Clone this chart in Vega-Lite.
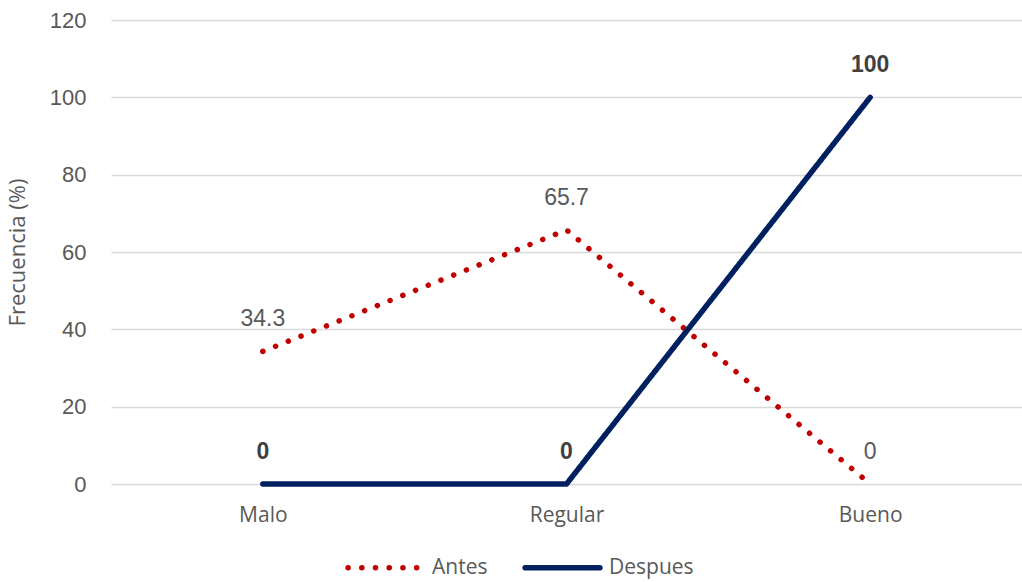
{
  "$schema": "https://vega.github.io/schema/vega-lite/v6.json",
  "autosize": {"type": "none"},
  "width": 911,
  "height": 464,
  "padding": {"left": 111, "top": 20, "right": 0, "bottom": 98},
  "background": "white",
  "config": {
    "view": {"stroke": null},
    "font": "Liberation Sans"
  },
  "data": {
    "values": [
      {"Categoria": "Malo", "Serie": "Antes", "Frecuencia": 34.3},
      {"Categoria": "Regular", "Serie": "Antes", "Frecuencia": 65.7},
      {"Categoria": "Bueno", "Serie": "Antes", "Frecuencia": 0},
      {"Categoria": "Malo", "Serie": "Despues", "Frecuencia": 0},
      {"Categoria": "Regular", "Serie": "Despues", "Frecuencia": 0},
      {"Categoria": "Bueno", "Serie": "Despues", "Frecuencia": 100}
    ]
  },
  "encoding": {
    "x": {
      "field": "Categoria",
      "type": "nominal",
      "sort": ["Malo", "Regular", "Bueno"],
      "scale": {"type": "point", "padding": 0.5},
      "axis": {
        "title": null,
        "labelAngle": 0,
        "domain": false,
        "ticks": false,
        "grid": false,
        "labelPadding": 20,
        "labelFont": "Open Sans",
        "labelFontSize": 21,
        "labelColor": "#595959"
      }
    },
    "y": {
      "field": "Frecuencia",
      "type": "quantitative",
      "scale": {"domain": [0, 120], "nice": false},
      "axis": {
        "title": "Frecuencia (%)",
        "titleFont": "Open Sans",
        "titleFontSize": 22,
        "titleFontWeight": "normal",
        "titleColor": "#595959",
        "titlePadding": 20,
        "values": [0, 20, 40, 60, 80, 100, 120],
        "domain": false,
        "ticks": false,
        "labelPadding": 25,
        "labelFontSize": 22,
        "labelColor": "#595959",
        "gridColor": "#d9d9d9",
        "gridWidth": 1.5
      }
    }
  },
  "layer": [
    {
      "mark": {"type": "line", "strokeCap": "round", "strokeJoin": "round", "strokeWidth": 5.5},
      "encoding": {
        "color": {
          "field": "Serie",
          "type": "nominal",
          "scale": {"domain": ["Antes", "Despues"], "range": ["#c00000", "#002060"]},
          "legend": {
            "title": null,
            "orient": "none",
            "direction": "horizontal",
            "legendX": 234,
            "legendY": 507,
            "symbolType": "stroke",
            "symbolSize": 5600,
            "symbolStrokeWidth": 5.5,
            "labelFont": "Open Sans",
            "labelFontSize": 21,
            "labelColor": "#595959",
            "labelOffset": 6,
            "columnPadding": 26,
            "encode": {"symbols": {"update": {"strokeCap": {"value": "round"}}}}
          }
        },
        "strokeDash": {
          "field": "Serie",
          "type": "nominal",
          "scale": {"domain": ["Antes", "Despues"], "range": [[0.1, 13.6], [1, 0]]},
          "legend": null
        }
      }
    },
    {
      "transform": [{"filter": "datum.Serie === 'Antes'"}],
      "mark": {"type": "text", "dy": -32, "fontSize": 23, "color": "#595959"},
      "encoding": {"text": {"field": "Frecuencia", "type": "quantitative"}}
    },
    {
      "transform": [{"filter": "datum.Serie === 'Despues'"}],
      "mark": {"type": "text", "dy": -32, "fontSize": 23, "fontWeight": "bold", "color": "#404040"},
      "encoding": {"text": {"field": "Frecuencia", "type": "quantitative"}}
    }
  ]
}
